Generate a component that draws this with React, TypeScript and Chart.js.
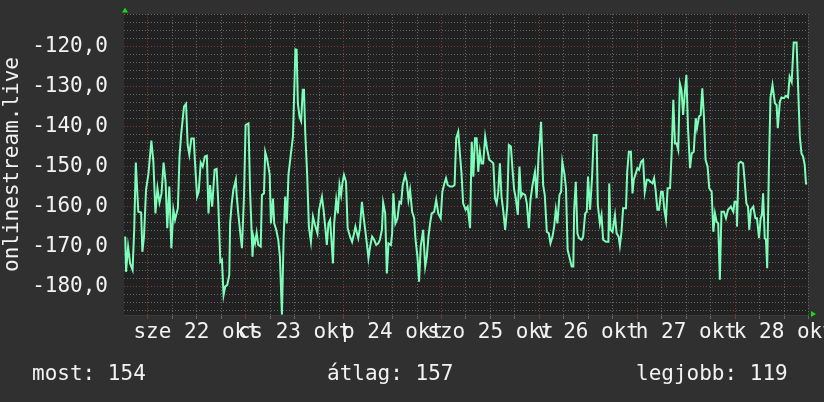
import React, { useEffect, useRef } from 'react';
import { Chart, registerables } from 'chart.js';

Chart.register(...registerables);

// Hours relative to 22 okt 00:00
const times = [
  -5.5, -5.3, -4.8, -4.3, -3.7, -3.3, -2.9, -2.3, -1.6, -1.3, -0.9, -0.4, 0.2, 0.9, 1.4, 1.9, 2.4, 2.9, 3.4, 3.9,
  4.4, 4.8, 5.3, 5.8, 6.3, 6.7, 7.4, 7.8, 8.2, 8.9, 9.4, 9.8, 10.2, 10.7, 11.3, 11.6, 12.1, 12.5, 13.0, 13.5,
  14.0, 14.5, 14.9, 15.3, 15.8, 16.4, 16.9, 17.3, 17.8,
  18.2, 18.6, 19.0, 19.5, 20.0, 20.2, 20.6, 21.0, 21.6, 21.8, 22.2, 22.7, 23.1, 23.6, 24.0, 24.7, 25.1, 25.7, 25.9,
  26.3, 26.7, 27.1, 27.7, 28.0, 28.5, 28.8, 29.3, 29.9, 30.2, 30.7, 31.0, 31.5, 32.0, 32.4, 32.9, 33.3, 33.7, 34.1,
  34.5, 35.1, 35.6, 35.9, 36.2, 36.5, 36.8, 37.2, 37.6, 38.0, 38.3, 38.6, 39.1, 39.5, 40.0, 40.5, 41.0, 41.6, 42.0, 42.7,
  43.1, 43.5, 43.9, 44.3, 44.7, 45.4, 45.7, 46.2, 46.6, 47.0, 47.4, 47.7, 48.1, 48.6, 49.0, 49.6, 50.1, 50.4, 50.9,
  51.2, 51.6, 52.0, 52.5, 52.8, 53.3, 53.7, 54.1, 54.5, 55.0, 55.5, 56.0, 56.5, 56.9, 57.4, 57.7, 58.2, 58.6, 59.0,
  59.6, 59.9, 60.2, 60.7, 61.2, 61.7, 62.1, 62.5, 63.1, 63.5, 63.9, 64.3, 64.8, 65.3, 65.6, 66.1, 66.5, 66.9,
  67.5, 68.0, 68.4, 68.8, 69.2, 69.6, 70.2, 70.7, 71.2, 71.8, 72.2, 72.7, 73.1, 73.5, 74.1, 74.7, 75.2, 75.6, 76.1,
  76.5, 76.9, 77.3, 77.9, 78.4, 79.0, 79.4, 79.8, 80.2, 80.6, 81.0, 81.4, 81.8, 82.2, 82.7, 83.2, 83.7, 84.3, 84.7,
  85.1, 85.5, 85.9, 86.3, 86.7, 87.1, 87.6, 88.1, 88.5, 89.0, 89.4, 89.8, 90.2, 90.7, 91.1, 91.5,
  91.9, 92.5, 92.9, 93.4, 93.8, 94.3, 94.9, 95.3, 95.8, 96.1, 96.4, 96.9, 97.3, 97.8, 98.3, 98.7, 99.2, 99.6, 100.0,
  100.4, 100.9, 101.3, 101.6, 102.1, 102.5, 102.9, 103.3, 103.9, 104.3, 104.5, 104.9, 105.3, 105.7, 106.3, 106.7,
  107.2, 107.6, 107.9, 108.4, 108.9, 109.3, 110.0, 110.3, 110.8, 111.2, 111.6, 112.3, 112.9, 113.1, 113.4, 113.9,
  114.5, 114.9, 115.4, 115.7, 116.1, 116.5, 117.2, 117.5, 117.9, 118.4, 118.8, 119.1, 119.6, 120.0, 120.4, 120.9,
  121.4, 121.8, 122.3, 122.7, 123.2, 123.7, 124.1, 124.5, 124.9, 125.3, 125.8, 126.2, 126.6, 127.0, 127.4, 128.0,
  128.4, 128.8, 129.2, 129.6, 130.0, 130.4, 130.8, 131.2, 131.6, 132.0, 132.4, 132.9, 133.3, 133.8, 134.3, 134.6,
  135.1, 135.5, 135.9, 136.3, 136.7, 137.2, 137.6, 138.2, 138.6, 139.0, 139.4, 139.8, 140.2, 140.6, 141.2, 141.7,
  142.2, 142.9, 143.5, 143.8, 144.3, 144.4, 144.8, 145.3, 145.9, 146.3, 146.7, 147.1, 147.4, 147.8, 148.4, 148.9,
  149.3, 149.8, 150.2, 150.5, 150.8, 151.2, 151.5, 151.8, 152.2, 152.6, 153.1, 153.7, 154.1, 154.4, 154.9, 155.3,
  155.9, 156.4, 156.9, 157.3, 157.8, 158.3, 159.0, 159.4, 159.8, 160.2, 160.6, 161.0, 161.3, 161.6,
];

const values = [
  -167.5, -176.3, -170, -174.2, -175.8, -165.8, -149, -161.3, -161.5, -171.3, -167.5, -155.8, -151.7, -143.5, -148.8, -161.7, -155.4, -159, -156.7, -149,
  -154, -165.4, -155, -170.4, -160.8, -163.3, -160.4, -147.5, -142, -135, -134.3, -144.6, -147, -143, -143, -149, -157.5, -156.3, -149, -150,
  -147.5, -147.3, -161.7, -154.6, -160, -150.8, -150.6, -159, -173.8,
  -173.3, -182.1, -180, -179.6, -177.1, -164.2, -159.2, -155.8, -153.3, -157.1, -161.7, -166.7, -170.4, -157.5, -139.6, -139.2, -156.3, -172.5, -167.5,
  -169.2, -166.5, -169.6, -170, -157.1, -156.7, -146.3, -148.3, -152, -164.2, -158, -164.2, -165.8, -168.3, -172.5, -187, -168.3, -157.5, -164.2,
  -152, -146.7, -142.5, -131.7, -120.7, -120.8, -134.2, -137.5, -138.6, -130.8, -130.8, -141.3, -152.5, -165, -168.8, -162.5, -164.6, -166.7, -160.8, -157.5,
  -160.8, -165, -169.6, -164.2, -163.3, -174.2, -164.2, -158.3, -161.7, -154.6, -157.1, -154.2, -152.1, -153.8, -165.4, -167.5, -168.8, -167.5, -165,
  -166.3, -167.9, -165.4, -158.8, -161.7, -165.8, -169.2, -172.9, -170, -167.5, -168.3, -169.6, -169.2, -168.3, -165.8, -159, -161.7, -176.7, -169.2,
  -169.6, -166.7, -156.7, -164.2, -163, -158.8, -159.2, -154.6, -152.1, -153.8, -158.3, -155.8, -161.3, -162.9, -167.9, -172.5, -178.8, -170,
  -165.8, -175, -172.5, -167.5, -164.2, -161.7, -161.3, -158.3, -161.7, -162.9, -156.3, -154.2, -152.9, -154.6, -155, -155, -154.6, -142.9, -141.3,
  -146.7, -151.7, -159.2, -160.8, -160, -165.4, -143.8, -152.5, -142.9, -142.9, -151.3, -146.3, -149.2, -149.2, -142.5, -145.8, -148.3, -148.8, -149.2,
  -157.9, -159.2, -156.3, -149.2, -157.5, -160.8, -165.8, -160, -144.6, -145, -150.8, -155.8, -157.9, -162.1, -150, -157.5,
  -156.7, -157.1, -159.2, -165.4, -158.3, -154.6, -151.3, -157.9, -146.7, -143.3, -138.8, -154.6, -157.1, -166.3, -166.7, -169.2, -167.5, -165, -160.8,
  -164.2, -157.1, -156.3, -148.8, -151.7, -155.4, -170.8, -172.5, -175, -175, -160.8, -153.8, -166.7, -167.9, -168.3, -167.5,
  -161.7, -161.3, -152.5, -160.8, -152.5, -142.1, -142.1, -159.6, -164.2, -162.1, -168.3, -168.8, -168.8, -154.2, -165.8, -166.3,
  -162.1, -166.7, -167.5, -169.8, -166.3, -160.4, -160.4, -151.3, -146.3, -146.3, -156.7, -153.3, -151.7, -150.4, -150.8, -148.8,
  -148.3, -156.3, -153.3, -153.3, -153.8, -154.2, -152.9, -156.3, -160.8, -160.8, -156.3, -156.3, -160.8, -163.3, -155.4, -155.4,
  -146.3, -133.3, -144.2, -144.2, -145.8, -129.2, -130.8, -137.1, -131.7, -127.1, -140.4, -150.4, -146.7, -146.3, -137.9, -140.4,
  -137.5, -137.1, -130.4, -137.5, -148.3, -150, -155.4, -156.3, -166.3, -161.7, -163.8, -164.2, -178.3, -161.3, -161.3, -162.9,
  -160.8, -160, -161.3, -158.8, -158.8, -165, -149.2, -148.8, -149.2, -153.8, -159.2, -160, -165.8, -160.8, -160, -162.9,
  -162.9, -167.9, -162.9, -162.1, -156.7, -167.9, -168.3, -175.4, -151.3, -132.9, -129.6, -134.2, -134.6, -140.4, -133.8, -132.7,
  -132.9, -132.3, -132.7, -127.5, -128.8, -119, -119, -130.8, -142.5, -146.7, -147.5, -149.6, -154.2, -154.2,
];

const gridHours = [0, 6, 12, 18, 24, 30, 36, 42, 48, 54, 60, 66, 72, 78, 84, 90, 96, 102, 108, 114, 120, 126, 132, 138, 144, 150, 156, 162];
const dayLabelHours = [12, 36, 60, 84, 108, 132, 156];
const dayLabels = ['sze 22 okt', 'cs 23 okt', 'p 24 okt', 'szo 25 okt', 'v 26 okt', 'h 27 okt', 'k 28 okt'];
const yMajorTicks = [-180, -170, -160, -150, -140, -130, -120];
const yMinorStep = 2;
const statLabels = ['most:', 'átlag:', 'legjobb:'];
const statValues = [154, 157, 119];
const seriesName = 'onlinestream.live';

const MONO = "'DejaVu Sans Mono', monospace";
const TEXT = '#f2f2f2';
const MINOR = '#666666';
const MAJOR = '#853a3a';

const rrdPlugin = {
  id: 'rrdDecor',
  beforeDraw(chart: any) {
    const { ctx, chartArea: a, width, height } = chart;
    ctx.save();
    ctx.fillStyle = '#303030';
    ctx.fillRect(0, 0, width, height);
    ctx.fillStyle = '#212121';
    ctx.fillRect(a.left, a.top, a.right - a.left, a.bottom - a.top);
    ctx.restore();
  },
  afterDraw(chart: any) {
    const { ctx, chartArea: a } = chart;
    ctx.save();
    ctx.fillStyle = '#11dd11';
    ctx.beginPath();
    ctx.moveTo(a.left + 1, a.top - 6.5);
    ctx.lineTo(a.left - 2, a.top - 1.5);
    ctx.lineTo(a.left + 4, a.top - 1.5);
    ctx.closePath();
    ctx.fill();
    ctx.beginPath();
    ctx.moveTo(a.right + 8, a.bottom - 1);
    ctx.lineTo(a.right + 3, a.bottom - 4);
    ctx.lineTo(a.right + 3, a.bottom + 2);
    ctx.closePath();
    ctx.fill();
    ctx.font = `21px ${MONO}`;
    ctx.fillStyle = TEXT;
    ctx.textBaseline = 'middle';
    ctx.textAlign = 'left';
    const xs = [32, 327, 636];
    statLabels.forEach((l, i) => ctx.fillText(`${l} ${statValues[i]}`, xs[i], 375));
    ctx.restore();
  },
};

export default function App() {
  const ref = useRef<HTMLCanvasElement | null>(null);
  useEffect(() => {
    if (!ref.current) return;
    const chart = new Chart(ref.current, {
      type: 'line',
      data: {
        datasets: [
          {
            label: seriesName,
            data: times.map((t, i) => ({ x: t, y: values[i] })),
            borderColor: '#7dffb9',
            borderWidth: 2,
            pointRadius: 0,
            tension: 0,
            fill: false,
          },
        ],
      },
      options: {
        animation: false,
        responsive: false,
        devicePixelRatio: 1,
        parsing: true,
        layout: { padding: { left: 0, top: 14, right: 16, bottom: 47 } },
        plugins: { legend: { display: false }, tooltip: { enabled: false } },
        scales: {
          x: {
            type: 'linear',
            min: -5.8,
            max: 161.8,
            afterBuildTicks: (s: any) => {
              s.ticks = gridHours.map((v) => ({ value: v }));
            },
            afterFit: (s: any) => {
              s.height = 40;
              s.paddingLeft = 0;
              s.paddingRight = 0;
            },
            ticks: {
              autoSkip: false,
              maxRotation: 0,
              minRotation: 0,
              padding: 1,
              color: TEXT,
              font: { family: MONO, size: 21 },
              callback: (v: any) => {
                const i = dayLabelHours.indexOf(Number(v));
                return i >= 0 ? dayLabels[i] : '';
              },
            },
            grid: {
              drawTicks: true,
              tickLength: 4,
              color: (c: any) => (c.tick && c.tick.value % 24 === 0 ? MAJOR : MINOR),
              tickColor: (c: any) => (c.tick && c.tick.value % 24 === 0 ? MAJOR : MINOR),
            },
            border: { display: true, color: '#3a3a3a', dash: [1, 2] },
          },
          y: {
            type: 'linear',
            min: -187.1,
            max: -111.85,
            afterBuildTicks: (s: any) => {
              const t: any[] = [];
              for (let v = -186; v <= -112; v += yMinorStep) t.push({ value: v });
              s.ticks = t;
            },
            afterFit: (s: any) => {
              s.width = 124;
              s.paddingTop = 0;
              s.paddingBottom = 0;
            },
            ticks: {
              autoSkip: false,
              padding: 16,
              color: TEXT,
              font: { family: MONO, size: 21 },
              callback: (v: any) => (yMajorTicks.includes(Number(v)) ? Number(v).toFixed(1).replace('.', ',') : ''),
            },
            grid: {
              drawTicks: false,
              color: (c: any) => (c.tick && yMajorTicks.includes(c.tick.value) ? MAJOR : MINOR),
            },
            border: { display: false, dash: [1, 2] },
            title: {
              display: true,
              text: seriesName,
              color: TEXT,
              padding: 0,
              font: { family: MONO, size: 21 },
            },
          },
        },
      },
      plugins: [rrdPlugin],
    } as any);
    return () => chart.destroy();
  }, []);
  return (
    <div style={{ position: 'absolute', left: 0, top: 0, width: 824, height: 402, background: '#303030' }}>
      <canvas ref={ref} width={824} height={402} />
    </div>
  );
}
